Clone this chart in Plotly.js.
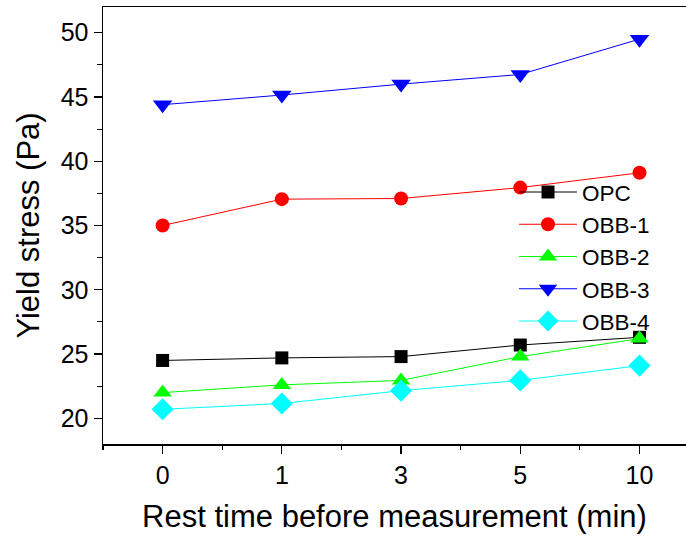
<!DOCTYPE html>
<html>
<head>
<meta charset="utf-8">
<script src="https://cdn.plot.ly/plotly-3.0.1.min.js"></script>
<style>html,body{margin:0;padding:0;overflow:hidden;background:#fff}</style>
</head>
<body>
<div id="chart" style="width:686px;height:537px"></div>
<script>
const restTimes = ['0', '1', '3', '5', '10'];
const opc  = [24.5, 24.7, 24.8, 25.7, 26.3];
const obb1 = [35.0, 37.05, 37.1, 37.95, 39.1];
const obb2 = [22.0, 22.6, 22.95, 24.8, 26.2];
const obb3 = [44.4, 45.15, 46.0, 46.75, 49.5];
const obb4 = [20.7, 21.15, 22.15, 22.95, 24.1];
const seriesNames = ['OPC', 'OBB-1', 'OBB-2', 'OBB-3', 'OBB-4'];

const styles = [
  {color: '#000000', symbol: 'square', size: 13},
  {color: '#ff0000', symbol: 'circle', size: 14},
  {color: '#00ff00', symbol: 'triangle-up', size: 16},
  {color: '#0000ff', symbol: 'triangle-down', size: 17},
  {color: '#00ffff', symbol: 'diamond', size: 17}
];
const allSeries = [opc, obb1, obb2, obb3, obb4];

const traces = allSeries.map((ys, i) => ({
  x: restTimes,
  y: ys,
  name: seriesNames[i],
  type: 'scatter',
  mode: 'lines+markers',
  line: {color: styles[i].color, width: 1},
  marker: {color: styles[i].color, symbol: styles[i].symbol, size: styles[i].size, line: {width: 0}}
}));

const font = {family: 'Liberation Sans, Arial, sans-serif', color: '#000'};

const layout = {
  width: 686, height: 537,
  margin: {l: 103, r: 0, t: 7, b: 93},
  paper_bgcolor: '#fff', plot_bgcolor: '#fff',
  font: Object.assign({size: 25}, font),
  showlegend: true,
  legend: {
    x: 0.705, y: 0.625, xanchor: 'left', yanchor: 'top',
    bgcolor: 'rgba(0,0,0,0)', borderwidth: 0,
    font: Object.assign({size: 22.5}, font),
    itemwidth: 58, tracegroupgap: 0
  },
  xaxis: {
    type: 'category',
    range: [-0.5, 4.39],
    showline: true, linecolor: '#000', linewidth: 1.5, mirror: true,
    ticks: 'outside', ticklen: 8, tickwidth: 1.2, tickcolor: '#000',
    showgrid: false, zeroline: false,
    tickfont: Object.assign({size: 25}, font),
    title: {text: 'Rest time before measurement (min)', font: Object.assign({size: 31}, font), standoff: 18}
  },
  xaxis2: {
    overlaying: 'x', type: 'linear', range: [-0.5, 4.39],
    tick0: 0.5, dtick: 1, ticks: 'outside', ticklen: 5, tickwidth: 1.2, tickcolor: '#000',
    showticklabels: false, showgrid: false, zeroline: false, showline: false,
    anchor: 'y', side: 'bottom'
  },
  yaxis: {
    range: [18, 52],
    dtick: 5, tick0: 0,
    showline: true, linecolor: '#000', linewidth: 1.5, mirror: false,
    ticks: 'outside', ticklen: 8, tickwidth: 1.2, tickcolor: '#000',
    minor: {dtick: 2.5, ticks: 'outside', ticklen: 5, tickwidth: 1.2, tickcolor: '#000'},
    showgrid: false, zeroline: false,
    tickfont: Object.assign({size: 25}, font),
    title: {text: 'Yield stress (Pa)', font: Object.assign({size: 31}, font), standoff: 12}
  }
};

// dummy trace to show the secondary (minor tick) x axis
traces.push({x: [0], y: [null], xaxis: 'x2', yaxis: 'y', showlegend: false, hoverinfo: 'skip', mode: 'markers'});

Plotly.newPlot('chart', traces, layout, {displayModeBar: false, staticPlot: true});
</script>
</body>
</html>
